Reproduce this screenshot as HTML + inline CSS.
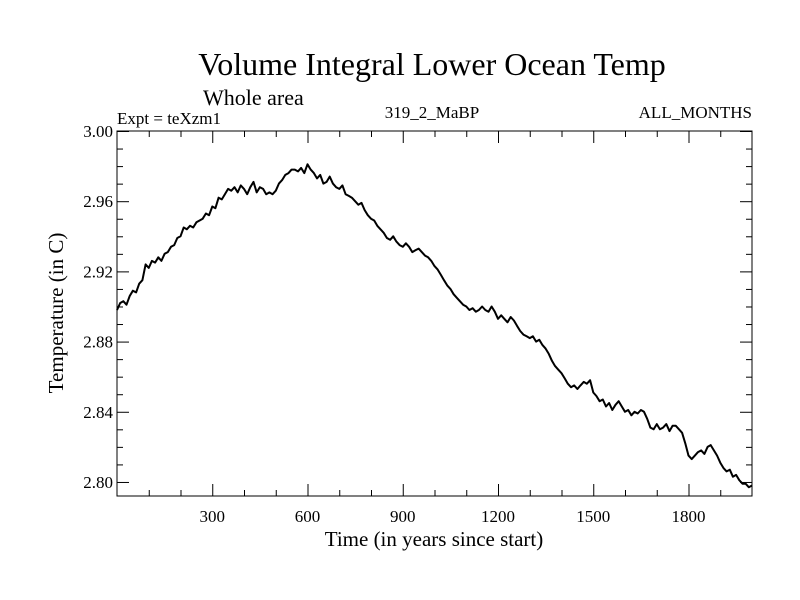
<!DOCTYPE html>
<html><head><meta charset="utf-8"><style>
body{margin:0;background:#fff}
svg{display:block;font-family:"Liberation Serif",serif}
</style></head><body>
<svg id="c" width="800" height="600">
<text x="432" y="75" font-size="32" text-anchor="middle">Volume Integral Lower Ocean Temp</text>
<text x="203" y="105" font-size="22">Whole area</text>
<text x="117" y="124" font-size="17">Expt = teXzm1</text>
<text x="432" y="118" font-size="17" text-anchor="middle">319_2_MaBP</text>
<text x="752" y="118" font-size="17" text-anchor="end">ALL_MONTHS</text>
<text x="434" y="546" font-size="21" text-anchor="middle">Time (in years since start)</text>
<text transform="translate(63,313) rotate(-90)" font-size="21" text-anchor="middle">Temperature (in C)</text>
<g id="ticks"></g>
<path id="line" fill="none" stroke="#000" stroke-width="2" stroke-linejoin="round"/>
<rect x="117" y="131" width="635" height="365" fill="none" stroke="#000" stroke-width="1"/>
</svg>
<script>
const years=[];for(let i=0;i<=200;i++)years.push(i*10);
const temps=[2.898,2.902,2.903,2.901,2.906,2.909,2.908,2.913,2.915,2.924,2.922,2.926,2.925,2.928,2.926,2.930,2.931,2.934,2.935,2.939,
2.940,2.945,2.944,2.946,2.945,2.948,2.949,2.950,2.953,2.952,2.957,2.956,2.962,2.961,2.964,2.967,2.966,2.968,2.965,2.969,
2.967,2.964,2.968,2.971,2.965,2.968,2.967,2.964,2.965,2.964,2.966,2.970,2.972,2.975,2.976,2.978,2.978,2.977,2.979,2.976,
2.981,2.978,2.976,2.973,2.975,2.970,2.971,2.974,2.970,2.968,2.967,2.969,2.964,2.963,2.962,2.960,2.958,2.959,2.955,2.952,
2.950,2.949,2.946,2.944,2.942,2.939,2.938,2.940,2.937,2.935,2.934,2.936,2.934,2.931,2.932,2.933,2.931,2.929,2.928,2.926,
2.923,2.921,2.918,2.915,2.912,2.910,2.907,2.905,2.903,2.901,2.900,2.898,2.899,2.897,2.898,2.900,2.898,2.897,2.900,2.897,
2.893,2.895,2.893,2.891,2.894,2.892,2.889,2.886,2.884,2.883,2.882,2.883,2.880,2.881,2.878,2.876,2.873,2.869,2.866,2.864,
2.862,2.859,2.856,2.854,2.855,2.853,2.855,2.857,2.856,2.858,2.851,2.849,2.846,2.847,2.843,2.845,2.841,2.844,2.846,2.843,
2.840,2.841,2.838,2.840,2.839,2.841,2.840,2.836,2.831,2.830,2.833,2.830,2.831,2.833,2.829,2.832,2.832,2.830,2.828,2.822,
2.815,2.813,2.815,2.817,2.818,2.816,2.820,2.821,2.818,2.815,2.811,2.808,2.806,2.807,2.803,2.804,2.801,2.799,2.799,2.797,2.798];
const xTicks=[300,600,900,1200,1500,1800];
const yTicks=[2.80,2.84,2.88,2.92,2.96,3.00];
const yLabels=["2.80","2.84","2.88","2.92","2.96","3.00"];
const L=117,R=752,T=131,B=496,X0=0,X1=2000,Y0=2.792,Y1=3.0;
const sx=v=>L+(v-X0)/(X1-X0)*(R-L);
const sy=v=>B-(v-Y0)/(Y1-Y0)*(B-T);
const NS="http://www.w3.org/2000/svg";
const g=document.getElementById('ticks');
function ln(x1,y1,x2,y2){const l=document.createElementNS(NS,'line');l.setAttribute('x1',x1);l.setAttribute('y1',y1);l.setAttribute('x2',x2);l.setAttribute('y2',y2);l.setAttribute('stroke','#000');


g.appendChild(l);}
function tx(x,y,s,a,n){const t=document.createElementNS(NS,'text');t.setAttribute('x',x);t.setAttribute('y',y);t.setAttribute('font-size','17');t.setAttribute('text-anchor',a);t.textContent=s;


g.appendChild(t);}
for(let v=100;v<X1;v+=100){const x=sx(v)+0.5,big=v%300===0,len=big?12:6;ln(x,B,x,B-len);ln(x,T,x,T+len);}
xTicks.forEach(v=>tx(sx(v),522,String(v),'middle','x-tick-label'));
for(let k=0;k<=20;k++){const v=2.80+k*0.01;if(v>Y1+1e-9)break;const y=sy(v)+0.5,big=k%4===0,len=big?12:6;ln(L,y,L+len,y);ln(R,y,R-len,y);}
yTicks.forEach((v,i)=>tx(113,sy(v)+6,yLabels[i],'end','y-tick-label'));
let d='';years.forEach((yr,i)=>{d+=(i?'L':'M')+sx(yr).toFixed(1)+','+sy(temps[i]).toFixed(1);});
document.getElementById('line').setAttribute('d',d);
</script>
</body></html>
